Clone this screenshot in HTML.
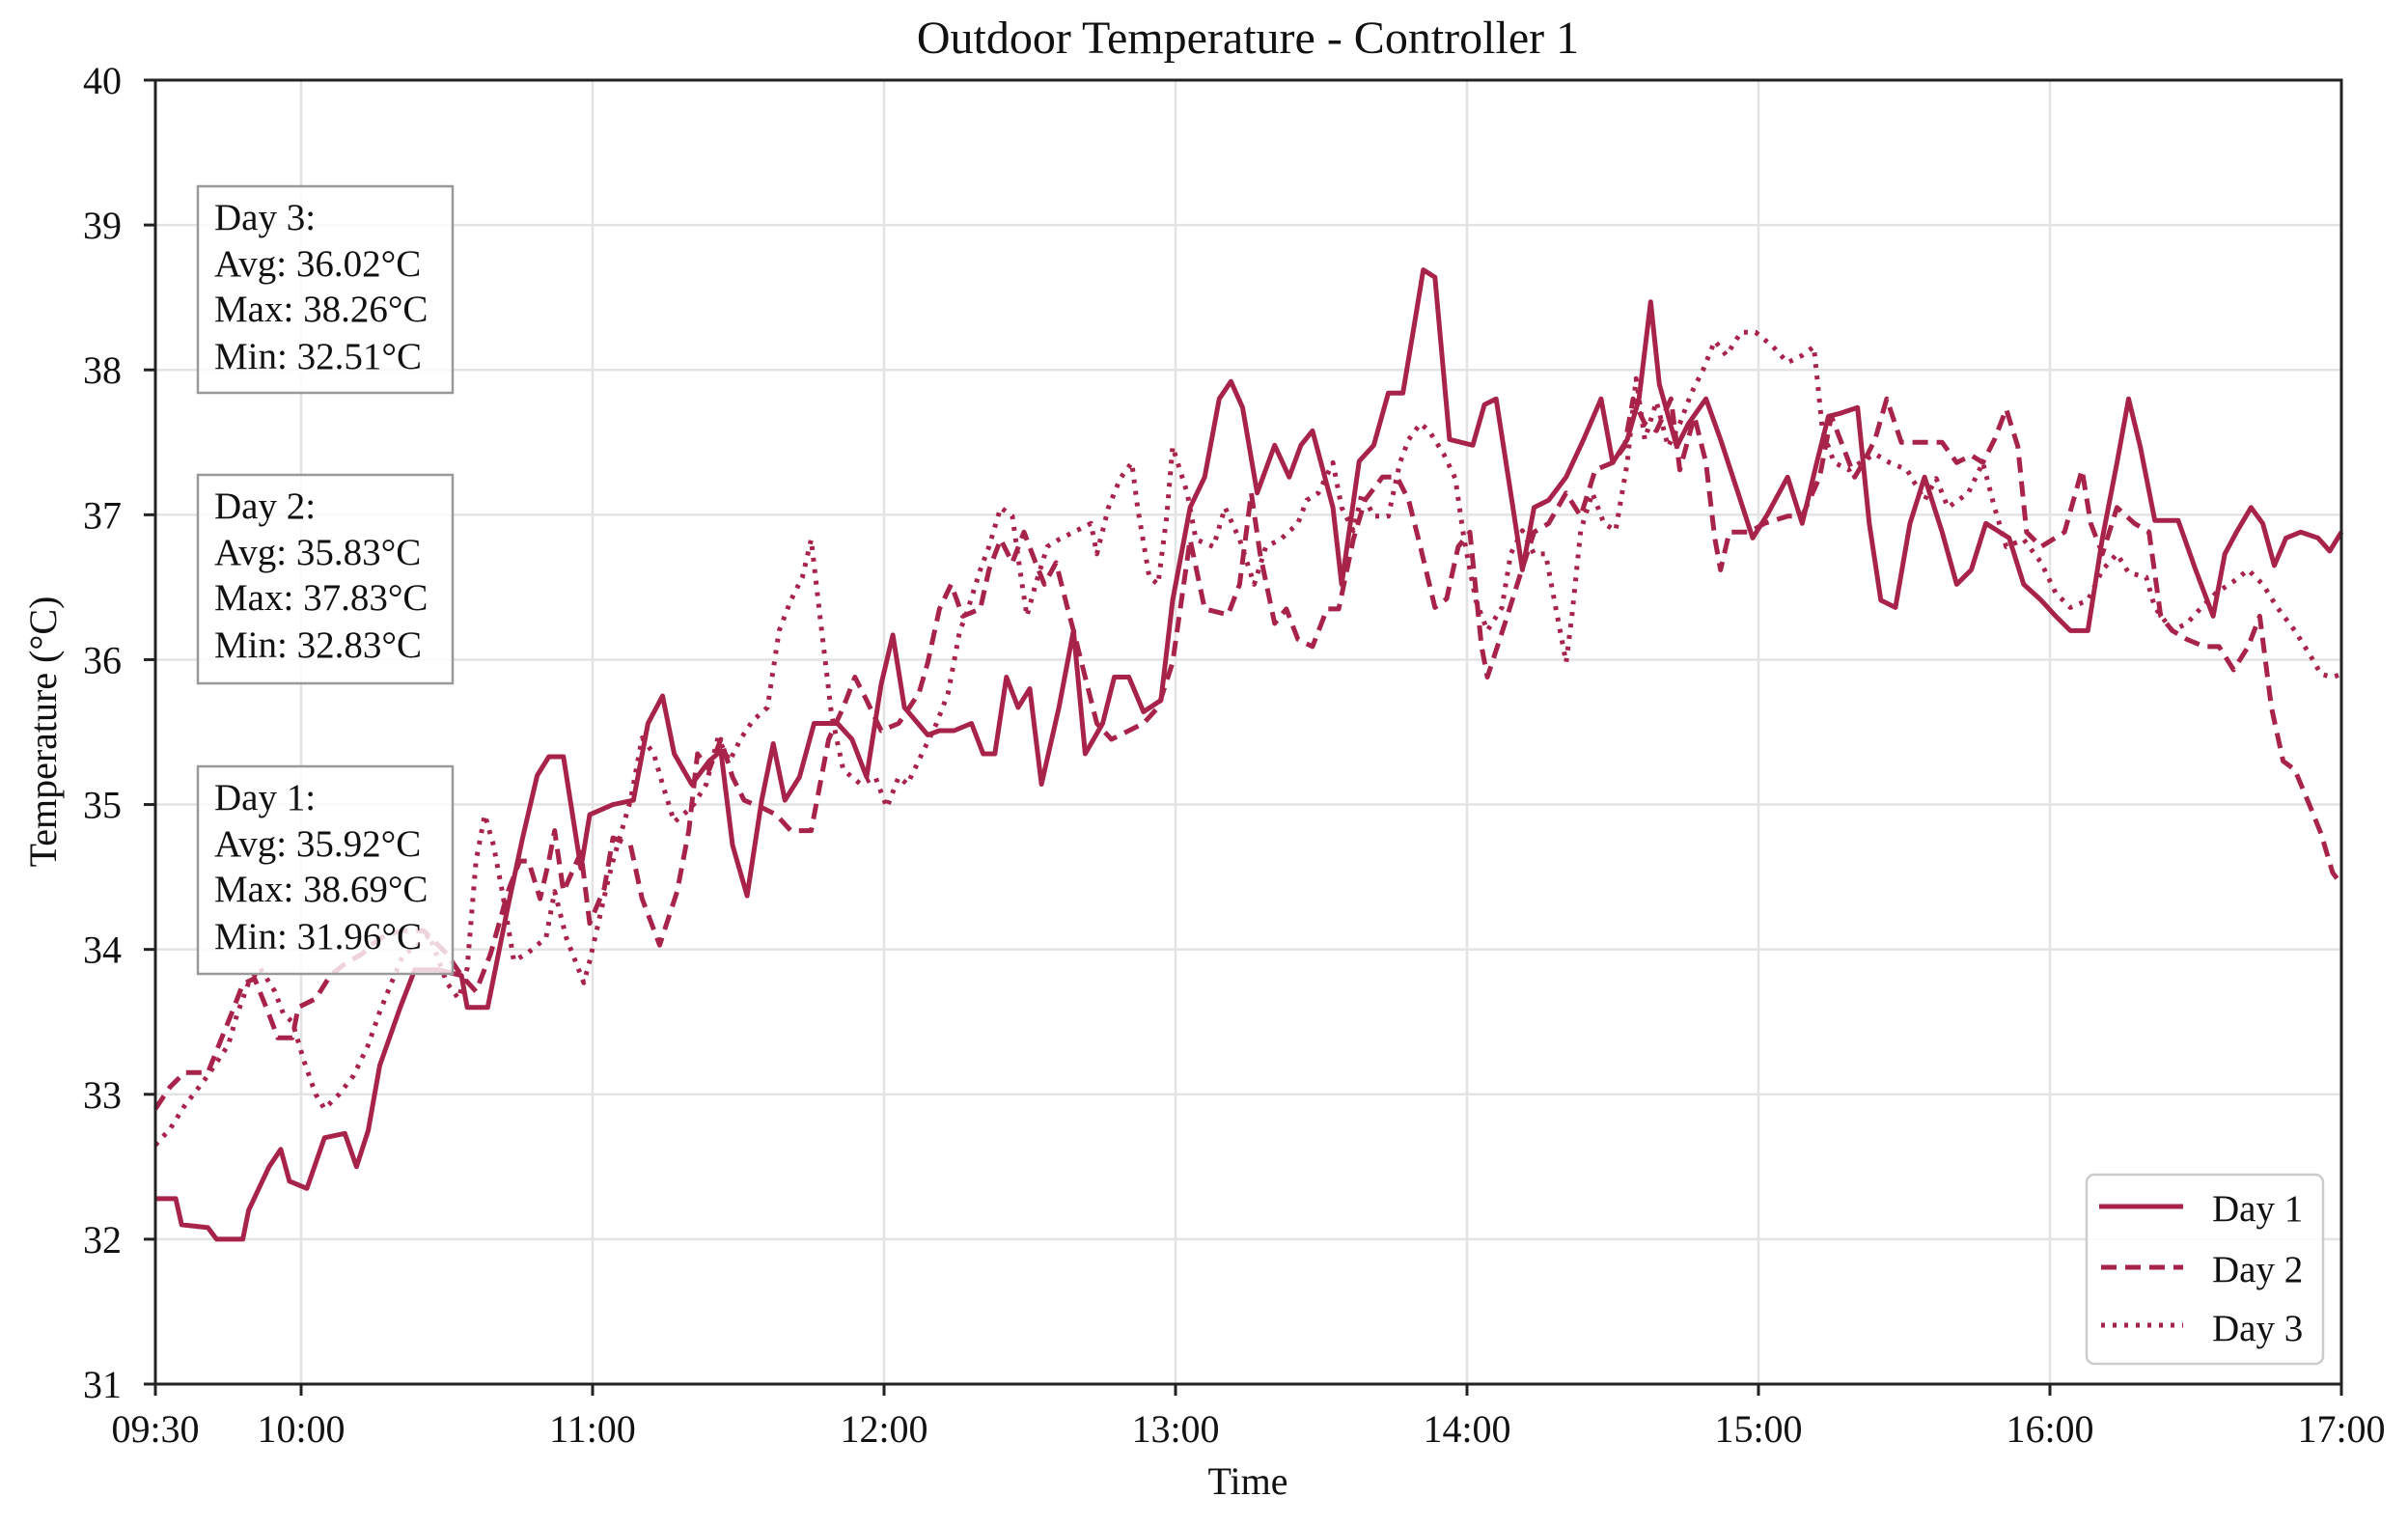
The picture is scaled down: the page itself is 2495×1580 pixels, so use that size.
<!DOCTYPE html>
<html><head><meta charset="utf-8"><style>
html,body{margin:0;padding:0;background:#fff;}
svg text{font-family:"Liberation Serif",serif;fill:#111;}
</style></head><body>
<svg id="chart" width="2495" height="1575" xmlns="http://www.w3.org/2000/svg">
<rect width="2495" height="1575" fill="#fff"/>
<g id="grid"></g>
<g id="series"></g>
<rect x="161" y="83" width="2265" height="1351" fill="none" stroke="#222" stroke-width="3"/>
<g id="axes"></g>
<text x="1293" y="55" font-size="48" text-anchor="middle">Outdoor Temperature - Controller 1</text>
<text x="1293" y="1548" font-size="40" text-anchor="middle">Time</text>
<text x="58" y="758" font-size="40" text-anchor="middle" transform="rotate(-90 58 758)">Temperature (°C)</text>

<g>
<rect x="205" y="193" width="264" height="214" fill="#fff" fill-opacity="0.82" stroke="#999" stroke-width="2.5"/>
<text x="222" y="238" font-size="39">Day 3:</text><text x="222" y="286" font-size="39">Avg: 36.02°C</text><text x="222" y="333" font-size="39">Max: 38.26°C</text><text x="222" y="382" font-size="39">Min: 32.51°C</text>
</g>
<g>
<rect x="205" y="492" width="264" height="216" fill="#fff" fill-opacity="0.82" stroke="#999" stroke-width="2.5"/>
<text x="222" y="537" font-size="39">Day 2:</text><text x="222" y="585" font-size="39">Avg: 35.83°C</text><text x="222" y="632" font-size="39">Max: 37.83°C</text><text x="222" y="681" font-size="39">Min: 32.83°C</text>
</g>
<g>
<rect x="205" y="794" width="264" height="215" fill="#fff" fill-opacity="0.8" stroke="#999" stroke-width="2.5"/>
<text x="222" y="839" font-size="39">Day 1:</text><text x="222" y="887" font-size="39">Avg: 35.92°C</text><text x="222" y="934" font-size="39">Max: 38.69°C</text><text x="222" y="983" font-size="39">Min: 31.96°C</text>
</g>

<g>
<rect x="2162" y="1217" width="245" height="196" rx="8" fill="#fff" fill-opacity="0.85" stroke="#ccc" stroke-width="2.5"/>
<g><line x1="2175" y1="1250" x2="2262" y2="1250" stroke="#a8234a" stroke-width="5"/><text x="2292" y="1265" font-size="39">Day 1</text></g>
<g><line x1="2177" y1="1313" x2="2262" y2="1313" stroke="#a8234a" stroke-width="5" stroke-dasharray="16,9"/><text x="2292" y="1328" font-size="39">Day 2</text></g>
<g><line x1="2177" y1="1373" x2="2262" y2="1373" stroke="#a8234a" stroke-width="5" stroke-dasharray="4,8"/><text x="2292" y="1389" font-size="39">Day 3</text></g>
</g>
</svg>
<script>
const xTickHours=[0,0.5,1.5,2.5,3.5,4.5,5.5,6.5,7.5];
const xTickLabels=["09:30","10:00","11:00","12:00","13:00","14:00","15:00","16:00","17:00"];
const yTicks=[31,32,33,34,35,36,37,38,39,40];
const day1Hours=[0,.07,.09,.18,.21,.30,.32,.39,.43,.46,.52,.58,.65,.69,.73,.77,.84,.89,.97,1.05,1.07,1.14,1.21,1.26,1.31,1.35,1.40,1.46,1.49,1.57,1.64,1.69,1.74,1.78,1.84,1.90,1.94,1.98,2.03,2.08,2.12,2.16,2.21,2.26,2.34,2.39,2.44,2.49,2.53,2.57,2.65,2.69,2.74,2.80,2.84,2.88,2.92,2.96,3.0,3.04,3.10,3.15,3.19,3.25,3.29,3.34,3.39,3.45,3.49,3.55,3.60,3.65,3.69,3.73,3.78,3.84,3.89,3.93,3.97,4.04,4.07,4.13,4.18,4.23,4.28,4.32,4.35,4.39,4.44,4.52,4.56,4.60,4.65,4.69,4.73,4.78,4.84,4.90,4.96,5.0,5.05,5.09,5.13,5.16,5.22,5.26,5.32,5.37,5.43,5.48,5.53,5.60,5.65,5.70,5.74,5.78,5.84,5.88,5.92,5.97,6.02,6.07,6.13,6.18,6.23,6.28,6.36,6.41,6.47,6.52,6.57,6.63,6.68,6.73,6.77,6.81,6.86,6.94,7.0,7.06,7.10,7.14,7.19,7.23,7.27,7.31,7.36,7.42,7.46,7.5];
const day1Temps=[32.28,32.28,32.1,32.08,32.0,32.0,32.2,32.5,32.62,32.4,32.35,32.7,32.73,32.5,32.75,33.2,33.6,33.86,33.86,33.82,33.6,33.6,34.3,34.77,35.2,35.33,35.33,34.56,34.93,35.0,35.03,35.56,35.75,35.35,35.14,35.3,35.37,34.72,34.37,35.03,35.42,35.03,35.19,35.56,35.56,35.45,35.19,35.83,36.17,35.67,35.48,35.51,35.51,35.56,35.35,35.35,35.88,35.67,35.8,35.14,35.67,36.2,35.35,35.56,35.88,35.88,35.64,35.72,36.41,37.05,37.26,37.8,37.92,37.74,37.15,37.48,37.26,37.48,37.58,37.05,36.52,37.37,37.48,37.84,37.84,38.32,38.69,38.64,37.52,37.48,37.76,37.8,37.15,36.62,37.05,37.1,37.26,37.52,37.8,37.36,37.52,37.8,38.47,37.9,37.47,37.63,37.8,37.52,37.15,36.84,37.0,37.26,36.94,37.36,37.68,37.7,37.74,36.94,36.41,36.36,36.94,37.26,36.88,36.52,36.62,36.94,36.84,36.52,36.41,36.3,36.2,36.2,36.84,37.36,37.8,37.47,36.96,36.96,36.62,36.3,36.73,36.88,37.05,36.94,36.65,36.84,36.88,36.84,36.75,36.88];
const day2Hours=[0,.05,.10,.18,.21,.26,.30,.34,.39,.42,.47,.49,.55,.60,.65,.71,.74,.79,.85,.92,1.0,1.05,1.10,1.15,1.21,1.25,1.28,1.32,1.35,1.37,1.40,1.46,1.49,1.54,1.57,1.63,1.67,1.73,1.79,1.83,1.86,1.90,1.94,1.98,2.02,2.09,2.13,2.18,2.25,2.31,2.36,2.40,2.44,2.49,2.55,2.62,2.65,2.69,2.73,2.77,2.83,2.86,2.90,2.94,2.98,3.02,3.05,3.09,3.13,3.15,3.19,3.23,3.28,3.34,3.39,3.44,3.49,3.55,3.60,3.68,3.72,3.76,3.79,3.84,3.88,3.92,3.97,4.02,4.06,4.11,4.15,4.21,4.26,4.30,4.34,4.39,4.43,4.47,4.51,4.55,4.57,4.63,4.68,4.73,4.78,4.84,4.89,4.94,5.0,5.04,5.07,5.11,5.15,5.20,5.23,5.28,5.32,5.35,5.37,5.40,5.47,5.52,5.60,5.65,5.71,5.75,5.79,5.83,5.86,5.90,5.94,5.99,6.07,6.13,6.18,6.23,6.27,6.31,6.35,6.39,6.42,6.47,6.55,6.61,6.64,6.68,6.73,6.79,6.84,6.88,6.92,6.97,7.03,7.08,7.13,7.18,7.22,7.26,7.30,7.34,7.39,7.43,7.47,7.5];
const day2Temps=[32.9,33.05,33.15,33.15,33.3,33.55,33.76,33.8,33.55,33.39,33.39,33.6,33.66,33.82,33.9,33.97,34.03,34.1,34.13,34.13,33.97,33.82,33.71,33.97,34.4,34.61,34.61,34.35,34.61,34.82,34.4,34.67,34.18,34.42,34.77,34.72,34.35,34.03,34.4,34.82,35.35,35.24,35.45,35.19,35.03,34.97,34.93,34.82,34.82,35.45,35.67,35.88,35.72,35.51,35.56,35.77,35.98,36.35,36.52,36.3,36.35,36.62,36.83,36.67,36.88,36.67,36.52,36.67,36.35,36.2,35.88,35.56,35.45,35.51,35.56,35.67,35.98,36.83,36.35,36.31,36.52,37.15,36.73,36.25,36.35,36.14,36.09,36.35,36.35,36.83,37.1,37.26,37.26,37.1,36.78,36.36,36.42,36.78,36.88,36.09,35.88,36.25,36.57,36.88,36.94,37.15,36.99,37.31,37.36,37.47,37.8,37.63,37.58,37.8,37.31,37.68,37.36,36.84,36.62,36.88,36.88,36.94,36.99,36.99,37.26,37.68,37.47,37.26,37.36,37.52,37.8,37.5,37.5,37.5,37.36,37.41,37.36,37.52,37.73,37.47,36.88,36.78,36.88,37.31,36.94,36.73,37.05,36.94,36.88,36.3,36.2,36.14,36.09,36.09,35.93,36.09,36.3,35.67,35.3,35.24,35.0,34.8,34.53,34.45];
const day3Hours=[0,.05,.10,.18,.25,.28,.32,.36,.41,.44,.47,.51,.55,.58,.63,.68,.73,.77,.81,.85,.90,.94,1.0,1.04,1.07,1.10,1.13,1.16,1.19,1.23,1.28,1.34,1.37,1.41,1.47,1.49,1.55,1.57,1.63,1.67,1.71,1.74,1.78,1.84,1.89,1.93,1.97,2.01,2.05,2.10,2.14,2.18,2.22,2.25,2.28,2.32,2.36,2.42,2.47,2.51,2.55,2.58,2.63,2.68,2.72,2.76,2.78,2.83,2.86,2.90,2.94,2.97,2.99,3.02,3.06,3.10,3.15,3.21,3.23,3.27,3.31,3.35,3.37,3.41,3.44,3.47,3.49,3.54,3.57,3.63,3.67,3.72,3.77,3.81,3.86,3.92,3.95,3.99,4.04,4.07,4.11,4.14,4.18,4.23,4.27,4.30,4.34,4.37,4.42,4.46,4.49,4.53,4.57,4.62,4.65,4.69,4.73,4.77,4.81,4.84,4.86,4.89,4.93,4.97,5.01,5.05,5.08,5.11,5.15,5.19,5.23,5.27,5.31,5.35,5.39,5.44,5.49,5.55,5.6,5.65,5.69,5.72,5.76,5.81,5.85,5.9,5.95,6.01,6.07,6.11,6.15,6.22,6.27,6.31,6.35,6.41,6.47,6.52,6.57,6.63,6.68,6.73,6.77,6.83,6.86,6.92,6.97,7.02,7.07,7.13,7.18,7.23,7.28,7.34,7.39,7.43,7.47,7.5];
const day3Temps=[32.65,32.76,32.92,33.13,33.34,33.55,33.77,33.87,33.71,33.55,33.5,33.23,33.0,32.9,33.0,33.13,33.34,33.57,33.77,33.96,34.03,34.1,33.77,33.66,33.87,34.61,34.93,34.72,34.4,33.92,33.98,34.08,34.4,34.08,33.77,33.92,34.45,34.61,35.03,35.46,35.35,35.14,34.88,34.98,35.14,35.46,35.3,35.46,35.58,35.67,36.2,36.41,36.57,36.83,36.3,35.62,35.24,35.14,35.19,34.98,35.19,35.14,35.35,35.56,35.77,36.2,36.3,36.62,36.78,37.05,36.99,36.57,36.3,36.52,36.78,36.83,36.88,36.94,36.73,37.05,37.25,37.36,37.05,36.57,36.52,36.99,37.47,37.15,36.83,36.78,37.05,36.83,36.52,36.78,36.83,36.94,37.1,37.15,37.36,37.05,36.89,37.15,36.99,36.99,37.36,37.52,37.63,37.58,37.42,37.25,36.83,36.41,36.2,36.36,36.73,36.89,36.73,36.73,36.3,35.98,36.3,36.89,37.15,36.94,36.89,37.36,37.94,37.52,37.78,37.47,37.63,37.84,38.0,38.2,38.1,38.26,38.26,38.16,38.05,38.1,38.16,37.58,37.36,37.31,37.36,37.42,37.36,37.31,37.1,37.25,37.05,37.15,37.36,37.05,36.78,36.83,36.67,36.46,36.36,36.41,36.62,36.73,36.6,36.57,36.36,36.2,36.25,36.36,36.46,36.54,36.62,36.52,36.36,36.2,36.04,35.9,35.88,35.9];

const L=161,R=2426,T=83,B=1434,NS="http://www.w3.org/2000/svg";
const xS=h=>L+(R-L)*h/7.5;
const yS=v=>B-(B-T)*(v-31)/9;
const grid=document.getElementById('grid'),axes=document.getElementById('axes'),ser=document.getElementById('series');
function mk(tag,attrs,parent){const e=document.createElementNS(NS,tag);for(const k in attrs)e.setAttribute(k,attrs[k]);parent.appendChild(e);return e;}
xTickHours.forEach((h,i)=>{
  const x=xS(h);
  const g=mk('line',{x1:x,y1:T,x2:x,y2:B,stroke:'#e3e3e3','stroke-width':2.5},grid);
  
  
  const t=mk('line',{x1:x,y1:B,x2:x,y2:B+12,stroke:'#222','stroke-width':3},axes);
  
  
  const tx=mk('text',{x:x,y:1494,'font-size':40,'text-anchor':'middle'},axes);
  tx.textContent=xTickLabels[i];
  
  
});
yTicks.forEach(v=>{
  const y=yS(v);
  const g=mk('line',{x1:L,y1:y,x2:R,y2:y,stroke:'#e3e3e3','stroke-width':2.5},grid);
  
  
  const t=mk('line',{x1:L-12,y1:y,x2:L,y2:y,stroke:'#222','stroke-width':3},axes);
  
  
  const tx=mk('text',{x:126,y:y+14,'font-size':40,'text-anchor':'end'},axes);
  tx.textContent=String(v);
  
  
});
function line(hs,vs,dash,name){
  const d=hs.map((h,i)=>(i?'L':'M')+xS(h).toFixed(1)+' '+yS(vs[i]).toFixed(1)).join(' ');
  const p=mk('path',{d:d,fill:'none',stroke:'#a8234a','stroke-width':5,'stroke-linejoin':'round'},ser);
  if(dash)p.setAttribute('stroke-dasharray',dash);
  
  
}
line(day3Hours,day3Temps,'4,8','day3-line');
line(day2Hours,day2Temps,'16,9','day2-line');
line(day1Hours,day1Temps,null,'day1-line');
</script>
</body></html>
